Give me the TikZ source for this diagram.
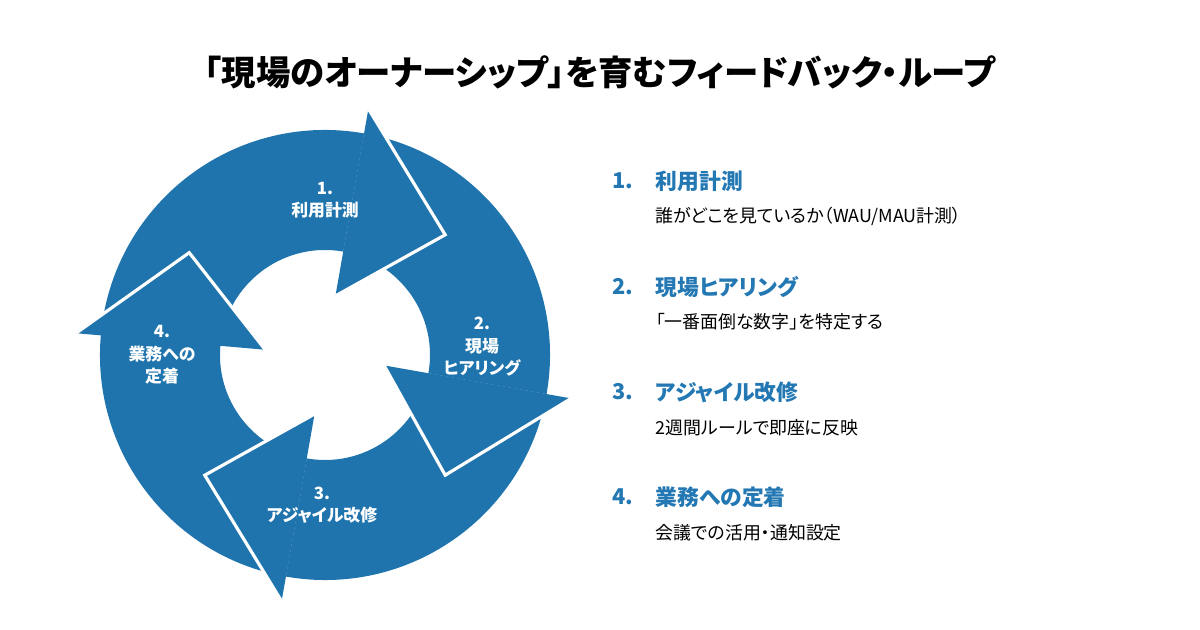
\documentclass[tikz,border=0pt]{standalone}
\usepackage{fontspec}
\setmainfont{Liberation Sans}
\newfontfamily\jp[RawFeature={+palt}]{Noto Sans CJK JP}
\usetikzlibrary{positioning}
\definecolor{loopblue}{HTML}{1F74AD}
\definecolor{headblue}{HTML}{2378B3}
\begin{document}
\begin{tikzpicture}[
 seglabel/.style = {text=white, font=\jp\bfseries\fontsize{4.8}{6.4}\selectfont, align=center},
   stepno/.style = {text=headblue, font=\jp\bfseries\fontsize{6.2}{7.5}\selectfont, anchor=west, inner sep=0pt},
     desc/.style = {font=\jp\fontsize{5.1}{6}\selectfont, anchor=west, inner sep=0pt}
                    ]
\useasboundingbox (0,0) rectangle (12,-6.3);
\node (title) at (6,-0.72) {\jp\bfseries\fontsize{9.8}{11}\selectfont 「現場のオーナーシップ」を育むフィードバック・ループ};
% ring
\begin{scope}[shift={(3.25,-3.55)}]
\foreach \s/\b in {170/80, 80/-10, -10/-100, -100/-190}
  \fill[loopblue] (\s:2.25) arc[start angle=\s, end angle=\b, radius=2.25]
     -- (\b:1.05) arc[start angle=\b, end angle=\s, radius=1.05] -- cycle;
\foreach \b/\t in {80/45, -10/-45, -100/-135, 175/143}{
  \fill[loopblue] (\b:2.5) -- (\t:1.7) -- (\b:0.6) -- cycle;
  \draw[white, line width=0.9pt, line join=miter] (\b:2.5) -- (\t:1.7) -- (\b:0.6);
}
\end{scope}
\node (s1) [seglabel] at (3.25,-2.0) {1.\\利用計測};
\node (s2) [seglabel] at (4.82,-3.47) {2.\\現場\\ヒアリング};
\node (s3) [seglabel] at (3.22,-5.05) {3.\\アジャイル改修};
\node (s4) [seglabel] at (1.62,-3.55) {4.\\業務への\\定着};
% list
\node (n1) [stepno] at (6.12,-1.81) {1.};
\node (h1) [stepno] at (6.55,-1.81) {利用計測};
\node (d1) [desc] at (6.55,-2.16) {誰がどこを見ているか（WAU/MAU計測）};
\node (n2) [stepno] at (6.12,-2.87) {2.};
\node (h2) [stepno] at (6.55,-2.87) {現場ヒアリング};
\node (d2) [desc] at (6.55,-3.22) {「一番面倒な数字」を特定する};
\node (n3) [stepno] at (6.12,-3.92) {3.};
\node (h3) [stepno] at (6.55,-3.92) {アジャイル改修};
\node (d3) [desc] at (6.55,-4.28) {2週間ルールで即座に反映};
\node (n4) [stepno] at (6.12,-4.97) {4.};
\node (h4) [stepno] at (6.55,-4.97) {業務への定着};
\node (d4) [desc] at (6.55,-5.33) {会議での活用・通知設定};
\end{tikzpicture}
\end{document}
